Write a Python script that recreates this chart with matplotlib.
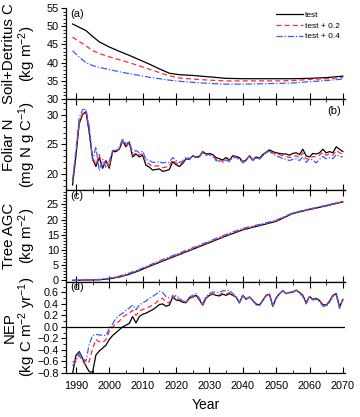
import numpy as np
import matplotlib
matplotlib.use('Agg')
import matplotlib.pyplot as plt
from matplotlib.ticker import MultipleLocator

plt.rcParams['font.family'] = ['Liberation Sans', 'DejaVu Sans']
plt.rcParams['mathtext.fontset'] = 'custom'
plt.rcParams['mathtext.rm'] = 'Liberation Sans'
plt.rcParams['mathtext.it'] = 'Liberation Sans:italic'

# ---- datos ----
years = list(range(1989, 2071))

years_a = [1989, 1991, 1993, 1995, 1997, 2000, 2003, 2006, 2009, 2012, 2015, 2018,
           2021, 2025, 2030, 2035, 2040, 2045, 2050, 2055, 2060, 2065, 2070]
soil_test = [50.6, 49.7, 48.8, 47.2, 45.7, 44.3, 43.1, 42.0, 40.8, 39.6, 38.3, 37.1,
             36.7, 36.5, 36.1, 35.7, 35.6, 35.6, 35.6, 35.6, 35.7, 35.9, 36.3]
soil_02 = [47.0, 45.8, 44.6, 43.3, 42.5, 41.6, 40.8, 40.0, 39.1, 38.2, 37.3, 36.4,
           35.8, 35.5, 35.2, 35.0, 35.0, 35.0, 35.0, 35.1, 35.4, 35.6, 35.9]
soil_04 = [43.3, 41.5, 40.0, 39.2, 38.7, 38.1, 37.5, 37.0, 36.5, 36.0, 35.6, 35.2,
           34.9, 34.6, 34.3, 34.1, 34.1, 34.2, 34.3, 34.4, 34.8, 35.1, 35.5]

# (b) Foliar N, anual
folN_test = [18.2, 23.0, 28.5, 30.0, 30.5, 27.0, 22.6, 21.3, 22.8, 21.0,
             22.3, 21.0, 23.8, 23.8, 24.2, 25.6, 24.6, 25.4, 22.9, 23.4,
             22.9, 23.2, 21.5, 21.2, 20.7, 20.8, 20.9, 20.5, 20.6, 20.8,
             22.1, 21.6, 21.3, 21.8, 22.6, 22.5, 23.1, 22.9, 23.0, 23.8,
             23.4, 23.5, 23.3, 22.8, 22.6, 22.4, 22.8, 22.4, 23.1, 23.0,
             22.8, 22.1, 22.4, 23.1, 22.4, 22.9, 22.7, 23.3, 23.7, 24.1,
             23.8, 23.6, 23.5, 23.4, 23.4, 23.2, 23.5, 23.6, 23.3, 24.2,
             23.1, 22.9, 23.5, 23.4, 23.6, 24.2, 23.6, 23.8, 23.6, 24.6,
             24.2, 23.8]
folN_02 = [18.8, 23.5, 28.8, 30.2, 30.6, 27.5, 22.9, 21.6, 23.3, 21.2,
           22.4, 21.3, 23.9, 23.9, 24.3, 25.5, 24.8, 25.3, 23.2, 23.6,
           23.2, 23.5, 22.0, 21.7, 21.3, 21.4, 21.4, 21.1, 21.2, 21.4,
           22.4, 21.9, 21.6, 22.0, 22.7, 22.6, 23.1, 22.8, 23.0, 23.7,
           23.3, 23.4, 23.1, 22.5, 22.4, 22.2, 22.6, 22.3, 22.9, 22.9,
           22.6, 22.0, 22.4, 23.1, 22.4, 22.8, 22.6, 23.2, 23.6, 24.0,
           23.6, 23.4, 23.3, 23.1, 23.0, 22.8, 23.0, 23.1, 22.8, 23.6,
           22.6, 22.5, 23.0, 22.9, 23.2, 23.7, 23.2, 23.4, 23.2, 24.0,
           23.6, 23.3]
folN_04 = [19.0, 24.0, 29.5, 30.8, 31.0, 28.0, 22.3, 24.6, 20.6, 22.5,
           21.2, 22.2, 24.0, 24.0, 24.5, 26.0, 25.0, 25.6, 23.6, 24.0,
           23.6, 23.9, 22.5, 22.3, 22.0, 22.0, 22.1, 21.9, 22.0, 22.0,
           22.8, 22.3, 22.0, 22.2, 22.9, 22.6, 23.0, 22.7, 22.9, 23.6,
           23.2, 23.3, 22.9, 22.3, 22.2, 22.0, 22.4, 22.1, 22.8, 22.8,
           22.5, 21.9, 22.3, 23.0, 22.3, 22.7, 22.5, 23.1, 23.5, 23.9,
           23.4, 23.1, 22.9, 22.6, 22.5, 22.3, 22.5, 22.6, 22.3, 22.9,
           22.0, 22.6, 22.4, 21.9, 22.5, 23.0, 22.6, 22.8, 22.6, 23.3,
           23.0, 22.9]

# (c) Tree AGC
years_c = [1989, 1993, 1997, 2000, 2003, 2006, 2009, 2012, 2015, 2018, 2021,
           2025, 2030, 2035, 2040, 2045, 2050, 2055, 2060, 2065, 2070]
agc_test = [0.0, 0.1, 0.2, 0.5, 1.1, 2.0, 3.2, 4.6, 5.9, 7.2, 8.5,
            10.2, 12.4, 14.6, 16.6, 18.0, 19.4, 22.0, 23.3, 24.5, 25.8]
agc_02 = [0.0, 0.1, 0.2, 0.6, 1.2, 2.2, 3.4, 4.8, 6.1, 7.4, 8.7,
          10.4, 12.6, 14.8, 16.8, 18.2, 19.6, 22.1, 23.4, 24.6, 25.9]
agc_04 = [0.0, 0.1, 0.3, 0.7, 1.4, 2.4, 3.6, 5.0, 6.4, 7.7, 9.0,
          10.7, 12.9, 15.1, 17.1, 18.4, 19.8, 22.2, 23.5, 24.7, 26.0]

# (d) NEP, anual
nep_test = [-0.82, -0.50, -0.43, -0.55, -0.68, -0.78, -0.79, -0.49, -0.42, -0.37,
            -0.32, -0.22, -0.15, -0.10, -0.05, 0.00, 0.03, 0.06, 0.18, 0.07,
            0.18, 0.22, 0.24, 0.27, 0.30, 0.34, 0.39, 0.40, 0.36, 0.38,
            0.52, 0.47, 0.46, 0.43, 0.42, 0.50, 0.52, 0.55, 0.47, 0.38,
            0.50, 0.55, 0.57, 0.55, 0.54, 0.57, 0.55, 0.58, 0.55, 0.52,
            0.42, 0.55, 0.48, 0.52, 0.46, 0.40, 0.38, 0.46, 0.55, 0.57,
            0.36, 0.50, 0.58, 0.63, 0.58, 0.60, 0.61, 0.64, 0.60, 0.55,
            0.42, 0.53, 0.48, 0.50, 0.46, 0.39, 0.38, 0.45, 0.55, 0.58,
            0.35, 0.48]
nep_02 = [-0.62, -0.57, -0.50, -0.60, -0.66, -0.60, -0.38, -0.22, -0.26, -0.27,
          -0.22, -0.08, 0.00, 0.06, 0.10, 0.17, 0.21, 0.24, 0.29, 0.20,
          0.28, 0.30, 0.33, 0.35, 0.38, 0.42, 0.48, 0.50, 0.43, 0.42,
          0.55, 0.50, 0.48, 0.44, 0.43, 0.51, 0.53, 0.56, 0.48, 0.38,
          0.51, 0.56, 0.58, 0.56, 0.56, 0.59, 0.57, 0.60, 0.56, 0.52,
          0.42, 0.55, 0.49, 0.52, 0.46, 0.39, 0.38, 0.46, 0.55, 0.57,
          0.37, 0.51, 0.58, 0.63, 0.58, 0.60, 0.61, 0.64, 0.60, 0.54,
          0.41, 0.53, 0.48, 0.49, 0.45, 0.38, 0.37, 0.44, 0.54, 0.57,
          0.35, 0.47]
nep_04 = [-0.68, -0.60, -0.45, -0.55, -0.60, -0.30, -0.15, -0.13, -0.14, -0.15,
          -0.15, -0.03, 0.05, 0.15, 0.20, 0.24, 0.29, 0.33, 0.38, 0.30,
          0.38, 0.42, 0.45, 0.50, 0.53, 0.57, 0.62, 0.60, 0.53, 0.50,
          0.50, 0.55, 0.50, 0.45, 0.44, 0.52, 0.55, 0.58, 0.50, 0.40,
          0.53, 0.58, 0.61, 0.60, 0.60, 0.63, 0.63, 0.64, 0.58, 0.53,
          0.42, 0.55, 0.49, 0.52, 0.46, 0.38, 0.37, 0.46, 0.54, 0.57,
          0.36, 0.50, 0.58, 0.63, 0.58, 0.59, 0.60, 0.64, 0.59, 0.53,
          0.40, 0.52, 0.47, 0.48, 0.44, 0.36, 0.35, 0.43, 0.53, 0.56,
          0.32, 0.46]

labels = ['test', 'test + 0.2', 'test + 0.4']
colores = ['black', '#ff2a2a', '#3a5cff']
estilos = ['-', (0, (4, 2.5)), (0, (5, 1.5, 1, 1.5))]

# ---- figura ----
fig, axs = plt.subplots(4, 1, figsize=(3.6, 4.17), dpi=100, sharex=True)
fig.subplots_adjust(left=0.183, right=0.958, top=0.981, bottom=0.106, hspace=0)

paneles = [
    (years_a, [soil_test, soil_02, soil_04], 'Soil+Detritus C\n(kg m$^{-2}$)', (30, 55), 5, 1, '(a)'),
    (years, [folN_test, folN_02, folN_04], 'Foliar N\n(mg N g C$^{-1}$)', (17.3, 32.6), 5, 1, '(b)'),
    (years_c, [agc_test, agc_02, agc_04], 'Tree AGC\n(kg m$^{-2}$)', (-0.4, 29.6), 5, 1, '(c)'),
    (years, [nep_test, nep_02, nep_04], 'NEP\n(kg C m$^{-2}$ yr$^{-1}$)', (-0.8, 0.79), 0.2, 0.1, '(d)'),
]

for i, (ax, (xx, series, ylab, ylim, mayor, menor, letra)) in enumerate(zip(axs, paneles)):
    for s, lab, c, ls in zip(series, labels, colores, estilos):
        ax.plot(xx, s, color=c, linestyle=ls, linewidth=0.9, label=lab)
    ax.set_ylim(ylim)
    ax.yaxis.set_major_locator(MultipleLocator(mayor))
    ax.yaxis.set_minor_locator(MultipleLocator(menor))
    ax.set_ylabel(ylab, fontsize=10.8, linespacing=1.0)
    ax.yaxis.set_label_coords(-0.1, 0.5)
    ax.spines['right'].set_visible(False)
    if i == 0:
        ax.spines['top'].set_visible(False)
    ax.tick_params(axis='y', which='major', direction='out', length=3.5, width=0.8,
                   labelsize=7.8, pad=1.5)
    ax.tick_params(axis='y', which='minor', direction='out', length=2, width=0.6)
    ax.tick_params(axis='x', which='major', direction='in', length=4, width=0.8,
                   top=(i > 0), labelsize=7.8, pad=6)
    ax.tick_params(axis='x', which='minor', direction='in', length=2.5, width=0.6,
                   top=(i > 0))
    for sp in ax.spines.values():
        sp.set_linewidth(0.9)
    if letra == '(b)':
        ax.text(0.985, 0.93, letra, transform=ax.transAxes, ha='right', va='top', fontsize=8)
    else:
        ax.text(0.015, 0.99, letra, transform=ax.transAxes, ha='left', va='top', fontsize=8)

# linea de cero en NEP
axs[3].axhline(0, color='black', linewidth=0.9)

axs[3].set_xlim(1987, 2070.6)
axs[3].xaxis.set_major_locator(MultipleLocator(10))
axs[3].xaxis.set_minor_locator(MultipleLocator(5))
axs[3].set_xlabel('Year', fontsize=10, labelpad=5)

leg = axs[0].legend(loc='upper right', bbox_to_anchor=(1.0, 1.02), frameon=False,
                    fontsize=6, handlelength=3.2, handletextpad=0.3, labelspacing=0.35,
                    borderaxespad=0.2)

plt.savefig('out.png', dpi=100)
